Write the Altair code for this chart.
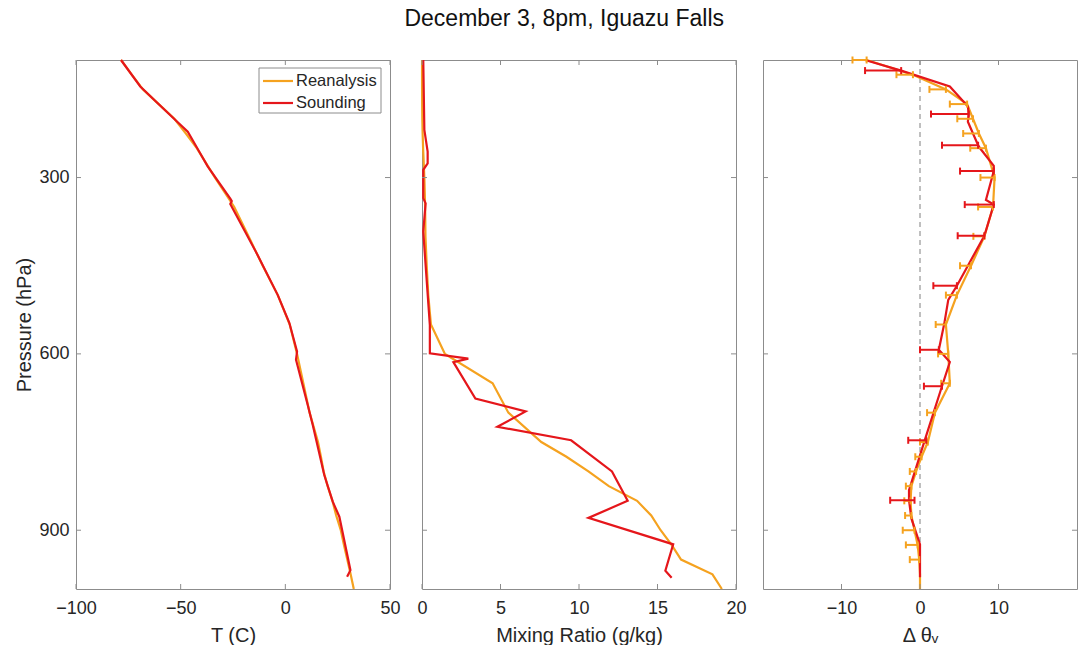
import altair as alt
import pandas as pd

# ---------------- data ----------------
P_RE = [100, 125, 150, 175, 200, 225, 250, 300, 350, 400, 450, 500, 550, 600,
        650, 700, 750, 775, 800, 825, 850, 875, 900, 925, 950, 975, 1000]
T_RE = [-78.5, -73.4, -68.0, -60.5, -53.0, -47.5, -42.3, -33.6, -24.4, -17.6,
        -10.8, -3.6, 2.1, 5.6, 8.6, 11.6, 15.6, 17.0, 18.3, 20.2, 22.5, 24.3,
        26.5, 28.0, 29.6, 31.2, 32.7]
W_RE = [0.003, 0.003, 0.005, 0.01, 0.02, 0.04, 0.07, 0.15, 0.2, 0.22, 0.3, 0.4,
        0.57, 1.46, 4.5, 5.5, 7.6, 9.2, 10.6, 11.9, 13.7, 14.6, 15.2, 15.9,
        16.5, 18.5, 19.1]
DTV_RE = [-6.8, -0.9, 3.3, 6.0, 6.75, 7.5, 8.4, 9.5, 9.3, 8.2, 6.5, 4.7, 3.3,
          3.6, 3.8, 1.9, 1.0, 0.2, -0.5, -1.1, -1.2, -1.1, -0.7, -0.3, -0.1,
          0.0, 0.0]
ERR_RE = [1.8, 2.1, 2.1, 2.2, 2.0, 2.0, 2.0, 1.8, 1.9, 1.4, 1.4, 1.4, 1.3, 1.3,
          1.1, 1.0, 1.0, 0.8, 0.8, 0.7, 0.8, 0.8, 1.5, 1.5, 1.2, 0.0, 0.0]

P_SND_T = [100, 145, 176, 206, 222, 256, 281, 336, 340, 345, 432, 500, 547, 596,
           610, 687, 721, 806, 851, 877, 968, 979]
T_SND = [-78.5, -69.3, -60.2, -51.4, -46.6, -41.1, -37.1, -26.3, -25.6, -26.3,
         -13.2, -3.6, 1.9, 5.6, 5.1, 10.7, 13.1, 18.6, 22.6, 25.8, 31.1, 29.5]

P_SND_W = [100, 219, 256, 276, 287, 335, 344, 392, 551, 599, 608, 614, 676, 698,
           724, 747, 800, 850, 879, 924, 969, 981]
W_SND = [0.08, 0.15, 0.36, 0.36, 0.08, 0.08, 0.23, 0.08, 0.5, 0.5, 2.95, 2.0,
         3.4, 6.6, 4.8, 9.5, 12.1, 13.1, 10.6, 16.0, 15.5, 15.9]

P_SND_D = [100, 118, 145, 179, 192, 205, 245, 251, 280, 289, 338, 346, 399, 484,
           508, 548, 593, 614, 655, 747, 832, 849, 880, 924, 980]
DTV_SND = [-7.0, -2.4, 3.8, 6.1, 6.2, 6.1, 7.4, 7.7, 9.4, 9.4, 8.4, 9.4, 8.2,
           4.7, 3.6, 3.1, 2.4, 3.8, 2.8, 0.6, -1.4, -1.4, -1.1, 0.0, 0.0]

P_SND_EB = [118, 192, 245, 289, 346, 399, 484, 593, 655, 747, 849]
SND_EB_LO = [-7.0, 1.4, 2.8, 5.1, 5.7, 4.8, 1.7, 0.0, 0.5, -1.5, -3.8]
SND_EB_HI = [-2.4, 6.2, 7.4, 9.4, 9.4, 8.2, 4.7, 2.4, 2.8, 0.8, -0.7]

P_TICKS = [300, 600, 900]
T_TICKS = [-100, -50, 0, 50]
W_TICKS = [0, 5, 10, 15, 20]
D_TICKS = [-10, 0, 10]

SERIES = ["Reanalysis", "Sounding"]
ORANGE = "#F5A21F"
RED = "#E5161B"
FONT = "Liberation Sans"
BOX = "#8c8c8c"
TXT = "#262626"
W, H = 314, 529
TL = 5  # inward tick length


def long_df(p_re, v_re, p_snd, v_snd):
    rows = []
    for p, v in zip(p_re, v_re):
        rows.append({"series": "Reanalysis", "p": p, "val": v})
    for p, v in zip(p_snd, v_snd):
        rows.append({"series": "Sounding", "p": p, "val": v})
    return pd.DataFrame(rows)


def yscale():
    return alt.Scale(domain=[100, 1000], reverse=True, nice=False, zero=False)


def xscale(dom):
    return alt.Scale(domain=dom, nice=False, zero=False)


def cscale():
    return alt.Scale(domain=SERIES, range=[ORANGE, RED])


def xaxis(values, title):
    return alt.Axis(values=values, title=title, grid=False, ticks=False, domain=False,
                    labelFlush=False, labelPadding=10, titlePadding=8,
                    labelFontSize=18, titleFontSize=20, labelFont=FONT,
                    titleFont=FONT, labelColor=TXT, titleColor=TXT,
                    titleFontWeight="normal")


def yaxis_main():
    return alt.Axis(values=P_TICKS, title="Pressure (hPa)", grid=False, ticks=False,
                    domain=False, labelPadding=7, titlePadding=4, labelFontSize=18,
                    titleFontSize=20, labelFont=FONT, titleFont=FONT,
                    labelColor=TXT, titleColor=TXT, titleFontWeight="normal")


def tick_layers(xticks, xdom, xax_fn, yax_fn):
    dy = pd.DataFrame({"p": P_TICKS})
    dx = pd.DataFrame({"val": xticks})
    out = []
    for x0, x1 in [(0, TL), (W - TL, W)]:
        out.append(alt.Chart(dy).mark_rule(color=BOX, strokeWidth=1).encode(
            y=alt.Y("p:Q", scale=yscale(), axis=yax_fn()),
            x=alt.value(x0), x2=alt.value(x1)))
    for y0, y1 in [(H - TL, H), (0, TL)]:
        out.append(alt.Chart(dx).mark_rule(color=BOX, strokeWidth=1).encode(
            x=alt.X("val:Q", scale=xscale(xdom), axis=xax_fn()),
            y=alt.value(y0), y2=alt.value(y1)))
    return out


def lines(df, xdom, xax, yax):
    return alt.Chart(df).mark_line(strokeWidth=2.2, orient="horizontal").encode(
        x=alt.X("val:Q", scale=xscale(xdom), axis=xax),
        y=alt.Y("p:Q", scale=yscale(), axis=yax),
        color=alt.Color("series:N", scale=cscale(), legend=None),
    )


# ---------------- panel 1: temperature ----------------
XD_T = [-100, 50]
df_t = long_df(P_RE, T_RE, P_SND_T, T_SND)
one = pd.DataFrame({"k": [0]})
leg_box = alt.Chart(one).mark_rect(fill="white", stroke=BOX, strokeWidth=1).encode(
    x=alt.value(183), x2=alt.value(305), y=alt.value(8), y2=alt.value(53))
leg_items = []
for name, col, yy in [("Reanalysis", ORANGE, 21), ("Sounding", RED, 43)]:
    leg_items.append(alt.Chart(one).mark_rule(color=col, strokeWidth=2.2).encode(
        x=alt.value(187), x2=alt.value(217), y=alt.value(yy)))
    leg_items.append(alt.Chart(one).mark_text(
        text=name, font=FONT, fontSize=16.5, color=TXT, align="left",
        baseline="middle").encode(x=alt.value(220), y=alt.value(yy)))

xax_t = lambda: xaxis(T_TICKS, "T (C)")
panel1 = alt.layer(
    lines(df_t, XD_T, xax_t(), yaxis_main()),
    *tick_layers(T_TICKS, XD_T, xax_t, yaxis_main), leg_box, *leg_items,
).properties(width=W, height=H)

# ---------------- panel 2: mixing ratio ----------------
XD_W = [0, 20]
df_w = long_df(P_RE, W_RE, P_SND_W, W_SND)
xax_w = lambda: xaxis(W_TICKS, "Mixing Ratio (g/kg)")
panel2 = alt.layer(
    lines(df_w, XD_W, xax_w(), None),
    *tick_layers(W_TICKS, XD_W, xax_w, lambda: None),
).properties(width=W, height=H)

# ---------------- panel 3: delta theta_v ----------------
XD_D = [-20, 20]
df_d = long_df(P_RE, DTV_RE, P_SND_D, DTV_SND)
xax_d = lambda: xaxis(D_TICKS, "Δ θᵥ")

zero_line = alt.Chart(pd.DataFrame({"val": [0]})).mark_rule(
    color="#808080", strokeWidth=1, strokeDash=[5, 4]).encode(
    x=alt.X("val:Q", scale=xscale(XD_D), axis=xax_d()))

eb_re = pd.DataFrame({
    "series": "Reanalysis",
    "p": [p for p, e in zip(P_RE, ERR_RE) if e > 0],
    "val": [round(v - e, 2) for v, e in zip(DTV_RE, ERR_RE) if e > 0],
    "hi": [v for v, e in zip(DTV_RE, ERR_RE) if e > 0],
})
eb_snd = pd.DataFrame({"series": "Sounding", "p": P_SND_EB,
                       "val": SND_EB_LO, "hi": SND_EB_HI})


def errbars(df):
    col = alt.Color("series:N", scale=cscale(), legend=None)
    bar = alt.Chart(df).mark_rule(strokeWidth=2).encode(
        x=alt.X("val:Q", scale=xscale(XD_D), axis=xax_d()), x2=alt.X2("hi"),
        y=alt.Y("p:Q", scale=yscale(), axis=None), color=col)
    cap1 = alt.Chart(df).mark_rule(strokeWidth=2, yOffset=-3.5, y2Offset=3.5).encode(
        x=alt.X("val:Q", scale=xscale(XD_D), axis=xax_d()),
        y=alt.Y("p:Q", scale=yscale(), axis=None), y2=alt.Y2("p"), color=col)
    cap2 = alt.Chart(df).mark_rule(strokeWidth=2, yOffset=-3.5, y2Offset=3.5).encode(
        x=alt.X("hi:Q", scale=xscale(XD_D), axis=xax_d()),
        y=alt.Y("p:Q", scale=yscale(), axis=None), y2=alt.Y2("p"), color=col)
    return [bar, cap1, cap2]


panel3 = alt.layer(
    zero_line,
    lines(df_d, XD_D, xax_d(), None),
    *errbars(eb_re), *errbars(eb_snd),
    *tick_layers(D_TICKS, XD_D, xax_d, lambda: None),
).properties(width=W, height=H)

chart = alt.hconcat(panel1, panel2, panel3, spacing=15).properties(
    title="December 3, 8pm, Iguazu Falls",
    padding={"left": 14, "top": 8, "right": 2, "bottom": 2},
).configure_view(stroke=BOX).configure_title(
    fontSize=23, fontWeight="normal", font=FONT, color="#111111",
    anchor="middle", offset=24, dx=18)

chart.save("out.html", embed_options={"renderer": "svg", "actions": False})
